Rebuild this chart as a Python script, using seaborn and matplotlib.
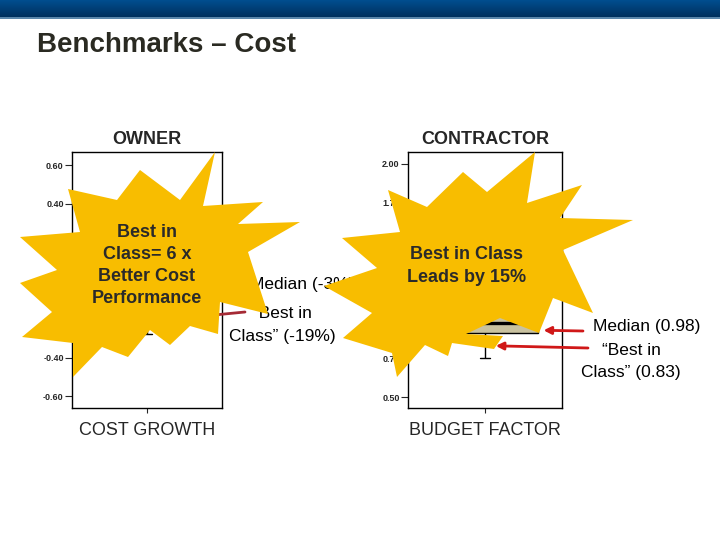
import numpy as np
import pandas as pd
import matplotlib
matplotlib.use("Agg")
import matplotlib.pyplot as plt
from matplotlib.patches import Polygon, Rectangle
from matplotlib.colors import LinearSegmentedColormap
import seaborn as sns

# ---------------- data ----------------
owner_cost_growth = [-0.28, -0.19, -0.15, -0.09, -0.03, 0.03, 0.10, 0.20, 0.30]
contractor_budget_factor = [0.75, 0.83, 0.91, 0.95, 0.98, 1.03, 1.10, 1.22, 1.35]
owner_ticks = [0.60, 0.40, 0.20, 0.00, -0.20, -0.40, -0.60]
contractor_ticks = [2.00, 1.75, 1.50, 1.25, 1.00, 0.75, 0.50]
panel_titles = ["OWNER", "CONTRACTOR"]
metric_labels = ["COST GROWTH", "BUDGET FACTOR"]
owner_median, owner_best = -0.03, -0.19
contractor_median, contractor_best = 0.98, 0.83
callouts = ["Best in\nClass= 6 x\nBetter Cost\nPerformance", "Best in Class\nLeads by 15%"]
title = "Benchmarks \u2013 Cost"

# ---------------- style ----------------
sns.set_style("white")
plt.rcParams["font.family"] = ["Liberation Sans", "DejaVu Sans"]

W, H = 720, 540
BOX = "#C9C2A0"
STAR = "#F8BD00"
RED = "#D01818"
MAROON = "#A52A35"
TXT = "#2a2a2a"

fig = plt.figure(figsize=(7.2, 5.4), dpi=100)
fig.patch.set_facecolor("white")


def fx(x):
    return x / W


def fy(y):
    return 1 - y / H


# header bar
hax = fig.add_axes([0, fy(17), 1, 17 / H])
cmap = LinearSegmentedColormap.from_list("hdr", ["#004e8f", "#00305e"])
hax.imshow(np.linspace(0, 1, 40).reshape(-1, 1), aspect="auto", cmap=cmap,
           extent=[0, 1, 0, 1])
hax.axis("off")
fig.add_artist(Rectangle((0, fy(19)), 1, 2 / H, transform=fig.transFigure,
                         color="#5b87ab", lw=0))

fig.text(fx(37), fy(45), title, fontsize=20, fontweight="bold", color="#2a2a22",
         ha="left", va="center")

ax1 = fig.add_axes([fx(72), fy(408), 150 / W, 256 / H])
ax2 = fig.add_axes([fx(408), fy(408), 154 / W, 256 / H])


def draw_box(ax, values):
    kw = dict(y=values, ax=ax, color=BOX, saturation=1, width=0.69,
              linecolor="black", linewidth=1.0,
              medianprops=dict(linewidth=2.4, color="black"), fliersize=3)
    try:
        sns.boxplot(capwidths=0.06, **kw)
    except TypeError:
        ax.cla()
        sns.boxplot(**kw)


draw_box(ax1, owner_cost_growth)
draw_box(ax2, contractor_budget_factor)

for ax, ticks, lims, ttl, lab in [
    (ax1, owner_ticks, (-0.662, 0.668), panel_titles[0], metric_labels[0]),
    (ax2, contractor_ticks, (0.43, 2.077), panel_titles[1], metric_labels[1]),
]:
    ax.set_xlim(-0.5, 0.5)
    ax.set_ylim(*lims)
    ax.set_yticks(ticks)
    ax.set_yticklabels([f"{t:.2f}" for t in ticks], fontsize=6.5, fontweight="bold")
    ax.set_xticks([0])
    ax.set_xticklabels([""])
    ax.tick_params(axis="y", direction="out", length=5, width=0.8, pad=1, left=True)
    ax.tick_params(axis="x", direction="out", length=3.5, width=0.8, bottom=True)
    ax.set_ylabel("")
    ax.set_xlabel(lab, fontsize=13, labelpad=3)
    ax.set_title(ttl, fontsize=13, fontweight="bold", pad=6)
    for s in ax.spines.values():
        s.set_visible(True)
        s.set_color("black")
        s.set_linewidth(1.0)

# annotations (drawn under the starbursts)
arrow_kw = dict(arrowstyle="-|>", lw=2.0, mutation_scale=11, shrinkA=0, shrinkB=0)
ax1.annotate("", xy=(0.36, owner_median), xycoords="data",
             xytext=(247, H - 285), textcoords="figure pixels",
             arrowprops=dict(color=MAROON, **arrow_kw))
ax1.annotate("", xy=(0.30, owner_best), xycoords="data",
             xytext=(245, H - 312), textcoords="figure pixels",
             arrowprops=dict(color=MAROON, **arrow_kw))
ax1.annotate(f"Median ({owner_median:.0%})", xy=(250, H - 285), xycoords="figure pixels",
             ha="left", va="center", fontsize=12.5, color="black")
ax1.annotate(f"\u201cBest in\nClass\u201d ({owner_best:.0%})", xy=(282, H - 325),
             xycoords="figure pixels", ha="center", va="center", fontsize=12.5,
             color="black", linespacing=1.66)

ax2.annotate("", xy=(0.38, 0.93), xycoords="data",
             xytext=(583, H - 331), textcoords="figure pixels",
             arrowprops=dict(color=RED, **arrow_kw))
ax2.annotate("", xy=(0.07, contractor_best), xycoords="data",
             xytext=(588, H - 348), textcoords="figure pixels",
             arrowprops=dict(color=RED, **arrow_kw))
ax2.annotate(f"Median ({contractor_median:.2f})", xy=(593, H - 327),
             xycoords="figure pixels", ha="left", va="center", fontsize=12.5,
             color="black")
ax2.annotate(f"\u201cBest in\nClass\u201d ({contractor_best:.2f})", xy=(631, H - 361.5),
             xycoords="figure pixels", ha="center", va="center", fontsize=12.5,
             color="black", linespacing=1.58)

# starburst callouts (decoration)
star1 = [(215, 152), (203, 206), (263, 202), (238, 224), (300, 222), (248, 252),
         (268, 314), (220, 302), (218, 334), (190, 326), (170, 345), (150, 330),
         (128, 357), (102, 347), (73, 377), (73, 343), (22, 337), (52, 312),
         (20, 283), (57, 270), (20, 237), (80, 232), (68, 189), (117, 200),
         (140, 170), (180, 200)]
star2 = [(535, 152), (527, 203), (582, 185), (560, 218), (633, 220), (563, 250),
         (593, 313), (553, 298), (539, 333), (500, 318), (466, 334), (503, 336),
         (494, 349), (452, 343), (448, 356), (425, 345), (397, 377), (392, 353),
         (343, 338), (372, 313), (324, 286), (377, 268), (342, 238), (400, 232),
         (388, 190), (427, 207), (463, 172), (487, 192)]
for pts in (star1, star2):
    fig.add_artist(Polygon([(fx(x), fy(y)) for x, y in pts], closed=True,
                           transform=fig.transFigure, facecolor=STAR,
                           edgecolor="none", zorder=5))

fig.text(fx(147), fy(265.5), callouts[0], fontsize=13, fontweight="bold", color=TXT,
         ha="center", va="center", linespacing=1.38, zorder=6)
fig.text(fx(467), fy(266), callouts[1], fontsize=13, fontweight="bold", color=TXT,
         ha="center", va="center", linespacing=1.42, zorder=6)

fig.savefig("out.png", dpi=100)
